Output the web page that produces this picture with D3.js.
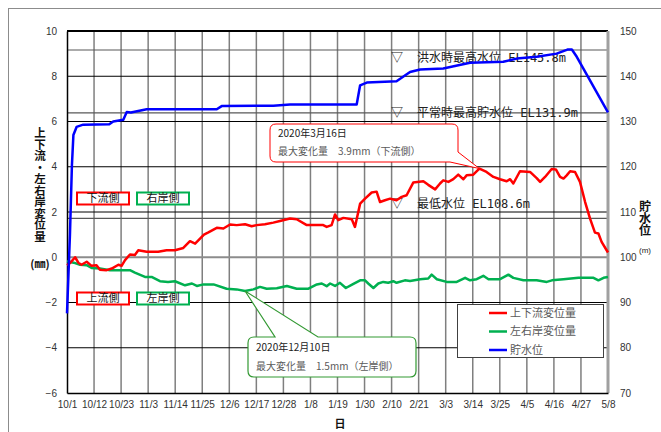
<!DOCTYPE html>
<html>
<head>
<meta charset="utf-8">
<script src="https://cdn.jsdelivr.net/npm/d3@7"></script>
<style>
body { margin: 0; background: #fff; }
svg { display: block; }
.vt { writing-mode: vertical-rl; text-orientation: upright; }
</style>
</head>
<body>
<div id="chart"></div>
<script>
// values; day = days elapsed since startDate
const startDate = '2019-10-01';
const xTickLabels = ['10/1', '10/12', '10/23', '11/3', '11/14', '11/25', '12/6', '12/17', '12/28', '1/8',
  '1/19', '1/30', '2/10', '2/21', '3/3', '3/14', '3/25', '4/5', '4/16', '4/27', '5/8'];
const leftTicks = [-6, -4, -2, 0, 2, 4, 6, 8, 10];
const rightTicks = [70, 80, 90, 100, 110, 120, 130, 140, 150];

// 上下流変位量 (mm)
const upDownDisp = [[0, -0.35], [1.4, -0.24], [3.3, 0.0], [4.6, -0.24], [5.9, -0.33], [8, -0.2], [10, -0.38],
  [12, -0.35], [13.4, -0.55], [16.1, -0.57], [18.2, -0.5], [20.9, -0.33], [22.2, -0.38], [23.6, -0.13],
  [25.6, 0.12], [27.6, 0.1], [29, 0.31], [32.4, 0.24], [37.1, 0.24], [40.5, 0.31], [43.9, 0.31], [47.3, 0.41],
  [50, 0.71], [52.1, 0.6], [54.1, 0.82], [55.7, 1.0], [57.5, 1.1], [60.9, 1.3], [63.6, 1.27], [66.3, 1.45],
  [69, 1.42], [72.4, 1.46], [75.1, 1.37], [77.1, 1.42], [80.5, 1.46], [83.9, 1.53], [86.6, 1.6], [90.7, 1.71],
  [93.4, 1.68], [97.5, 1.42], [104.2, 1.42], [105.6, 1.34], [107.6, 1.42], [109, 1.89], [110.3, 1.64],
  [112.4, 1.74], [115.8, 1.68], [117.1, 1.34], [119.2, 2.37], [121.2, 2.59], [123.9, 2.86], [125.9, 2.9],
  [127.3, 2.44], [129.3, 2.52], [131.4, 2.59], [134, 2.52], [136.1, 2.67], [138.1, 2.74], [140.8, 3.3],
  [144.9, 3.36], [146.9, 3.2], [149.7, 3.0], [151.7, 3.26], [153, 3.4], [155.1, 3.33], [157.1, 3.45],
  [159.1, 3.65], [161.2, 3.45], [162.5, 3.62], [165.2, 3.65], [167.7, 3.92], [170.6, 3.77], [173.4, 3.55],
  [176.1, 3.45], [178.8, 3.36], [180.2, 3.45], [181.5, 3.26], [184.2, 3.8], [188.3, 3.77], [191, 3.5],
  [192.4, 3.33], [194.4, 3.55], [197.1, 3.9], [198.8, 3.88], [200.5, 3.55], [201.9, 3.48], [203.2, 3.62],
  [204.6, 3.8], [206.6, 3.77], [208.6, 3.33], [210.7, 2.44], [212.7, 1.71], [214.7, 1.09], [216.1, 1.05],
  [217.4, 0.68], [220, 0.21]];

// 左右岸変位量 (mm)
const leftRightDisp = [[0, -0.18], [2.7, -0.24], [5.3, -0.33], [8, -0.35], [10, -0.47], [13.4, -0.5],
  [17.5, -0.57], [25.6, -0.57], [27.6, -0.68], [31.7, -0.87], [34.4, -0.87], [37.8, -1.06], [41.1, -1.09],
  [43.9, -1.06], [48, -1.24], [50.8, -1.16], [52.8, -1.27], [55.5, -1.2], [59.6, -1.2], [64.9, -1.39],
  [69, -1.42], [72.4, -1.49], [75.8, -1.42], [78.5, -1.31], [81.2, -1.39], [85.3, -1.37], [89.4, -1.27],
  [93.4, -1.39], [98.2, -1.39], [101.6, -1.2], [103.6, -1.16], [105.6, -1.28], [107, -1.16], [109, -1.27],
  [111, -1.13], [113.4, -1.36], [116.1, -1.2], [119.2, -1.02], [121.2, -1.02], [122.5, -1.16], [124.6, -1.36],
  [126.6, -1.16], [128.6, -1.09], [130.6, -1.13], [132.7, -1.06], [134, -1.13], [137.4, -1.02], [139.5, -1.05],
  [143.6, -0.97], [146.9, -0.94], [148.3, -0.77], [150.4, -0.97], [154.4, -1.09], [158.5, -1.09],
  [161.9, -0.91], [163.9, -1.02], [166.6, -0.97], [169.3, -0.82], [171.4, -0.97], [176.1, -0.97],
  [179.5, -0.77], [181.5, -0.91], [185.6, -1.02], [191, -1.02], [195.1, -1.09], [197.2, -1.02],
  [201.9, -0.97], [208, -0.91], [214.1, -0.91], [216.1, -1.02], [218.2, -0.91], [220, -0.87]];

// 貯水位 (m)
const waterLevel = [[0, 87.6], [1.2, 105], [2, 120.3], [2.6, 127], [3.9, 128.8], [6.6, 129.3], [17.2, 129.4],
  [18.8, 130.0], [22.9, 130.4], [24.3, 132.1], [26, 132.0], [32.4, 132.7], [60.9, 132.7], [62.9, 133.4],
  [83.9, 133.5], [90.7, 133.75], [117.8, 133.75], [119.2, 138.0], [121.9, 138.6], [134, 138.9],
  [139.5, 140.95], [143.6, 141.5], [153, 141.7], [163.9, 143.0], [177.4, 143.2], [182.9, 143.9],
  [191, 144.3], [199.1, 145.0], [203.5, 145.9], [205.3, 145.9], [207.3, 144.3], [220, 132.0]];

const refLevels = [145.8, 131.9, 108.6];
const refLabels = ['洪水時最高水位 EL145.8m', '平常時最高貯水位 EL131.9m', '最低水位 EL108.6m'];
const seriesNames = ['上下流変位量', '左右岸変位量', '貯水位'];
const seriesColors = ['#ff0000', '#00b050', '#0000ff'];

const width = 661, height = 432;
const margin = { top: 31, right: 53, bottom: 39, left: 67 };
const jp = '"Noto Sans CJK JP", sans-serif';
const num = '"Liberation Sans", Arial, sans-serif';

let svg = d3.select('#chart').append('svg')
  .attr('width', width)
  .attr('height', height);

svg.append('rect').attr('width', width).attr('height', height).attr('fill', '#fff');
// outer chart frame
svg.append('rect')
  .attr('x', 8.5).attr('y', 8.5)
  .attr('width', 720).attr('height', 500)
  .attr('fill', 'none').attr('stroke', '#8c8c8c');

let start = d3.utcParse('%Y-%m-%d')(startDate);
let toDate = day => new Date(+start + day * 864e5);
let parseTick = s => {
  let [m, d] = s.split('/').map(Number);
  return new Date(Date.UTC(m >= 10 ? 2019 : 2020, m - 1, d));
};
let tickDates = xTickLabels.map(parseTick);

let x = d3.scaleUtc()
  .domain([tickDates[0], tickDates[tickDates.length - 1]])
  .range([margin.left, width - margin.right]);
let yL = d3.scaleLinear().domain([-6, 10]).range([height - margin.bottom, margin.top]);
let yR = d3.scaleLinear().domain([70, 150]).range([height - margin.bottom, margin.top]);

let grid = svg.append('g');
grid.selectAll('.vg').data(tickDates.slice(1, -1)).join('line')
  .attr('x1', d => x(d)).attr('x2', d => x(d))
  .attr('y1', margin.top).attr('y2', height - margin.bottom)
  .attr('stroke', '#7f7f7f').attr('stroke-width', 1.5);
grid.selectAll('.hg').data(leftTicks.slice(1, -1)).join('line')
  .attr('x1', margin.left).attr('x2', width - margin.right)
  .attr('y1', d => yL(d)).attr('y2', d => yL(d))
  .attr('stroke', d => d === 0 ? '#8c8c8c' : '#000')
  .attr('stroke-width', d => d === 0 ? 2 : 1);
grid.selectAll('.rg').data(refLevels).join('line')
  .attr('x1', margin.left).attr('x2', width - margin.right)
  .attr('y1', d => yR(d)).attr('y2', d => yR(d))
  .attr('stroke', '#595959').attr('stroke-width', 1.2);

// frame of the plot area
svg.append('line')
  .attr('x1', margin.left).attr('x2', width - margin.right)
  .attr('y1', margin.top).attr('y2', margin.top)
  .attr('stroke', '#000').attr('stroke-width', 2);
svg.append('line')
  .attr('x1', width - margin.right).attr('x2', width - margin.right)
  .attr('y1', margin.top).attr('y2', height - margin.bottom)
  .attr('stroke', '#a0a0a0').attr('stroke-width', 3);

// axes
let axL = svg.append('g')
  .attr('transform', `translate(${margin.left},0)`)
  .call(d3.axisLeft(yL).tickValues(leftTicks).tickSize(0).tickPadding(10));
let axR = svg.append('g')
  .attr('transform', `translate(${width - margin.right},0)`)
  .call(d3.axisRight(yR).tickValues(rightTicks).tickSize(0).tickPadding(12));
let axB = svg.append('g')
  .attr('transform', `translate(0,${height - margin.bottom})`)
  .call(d3.axisBottom(x).tickValues(tickDates).tickSize(0).tickPadding(8)
    .tickFormat((d, i) => xTickLabels[i]));
axR.select('.domain').remove();
[axL, axB].forEach(a => a.select('.domain').attr('stroke', '#000').attr('stroke-width', 1.5));
[axL, axR, axB].forEach(a => a.selectAll('text')
  .attr('font-family', num).attr('font-size', 10).attr('fill', '#333'));

// reference level labels
let refDy = [8, 0, -15];
refLevels.forEach((lv, i) => {
  let yy = yR(lv) + refDy[i];
  svg.append('text')
    .attr('x', 397).attr('y', yy).attr('dy', '0.35em')
    .attr('text-anchor', 'middle')
    .attr('font-family', jp).attr('font-size', 12).attr('fill', '#222')
    .text('▽');
  svg.append('text')
    .attr('x', 417).attr('y', yy).attr('dy', '0.35em')
    .attr('font-family', '"DejaVu Sans Mono", "Noto Sans CJK JP", monospace')
    .attr('font-size', 12).attr('fill', '#222')
    .text(refLabels[i]);
});

// data lines
let lineL = d3.line().x(d => x(toDate(d[0]))).y(d => yL(d[1]));
let lineR = d3.line().x(d => x(toDate(d[0]))).y(d => yR(d[1]));
svg.append('path').datum(leftRightDisp).attr('d', lineL)
  .attr('fill', 'none').attr('stroke', seriesColors[1]).attr('stroke-width', 2.5).attr('stroke-linejoin', 'round');
svg.append('path').datum(upDownDisp).attr('d', lineL)
  .attr('fill', 'none').attr('stroke', seriesColors[0]).attr('stroke-width', 2.5).attr('stroke-linejoin', 'round');
svg.append('path').datum(waterLevel).attr('d', lineR)
  .attr('fill', 'none').attr('stroke', seriesColors[2]).attr('stroke-width', 2.5).attr('stroke-linejoin', 'round');

// side labels
let sideBoxes = [
  { t: '下流側', x: 77, y: 192.5, c: '#ff0000' },
  { t: '右岸側', x: 137, y: 192.5, c: '#00b050' },
  { t: '上流側', x: 77, y: 292.5, c: '#ff0000' },
  { t: '左岸側', x: 137, y: 292.5, c: '#00b050' }
];
sideBoxes.forEach(b => {
  svg.append('rect')
    .attr('x', b.x).attr('y', b.y).attr('width', 52).attr('height', 12)
    .attr('fill', '#fff').attr('stroke', b.c).attr('stroke-width', 2);
  svg.append('text')
    .attr('x', b.x + 26).attr('y', b.y + 6).attr('dy', '0.36em')
    .attr('text-anchor', 'middle')
    .attr('font-family', jp).attr('font-size', 11).attr('fill', '#111')
    .text(b.t);
});

// callouts
let maxUp = upDownDisp.reduce((a, b) => b[1] > a[1] ? b : a);
let minLr = leftRightDisp.reduce((a, b) => b[1] < a[1] ? b : a);
let ax1 = x(toDate(maxUp[0])), ay1 = yL(maxUp[1]);
let ax2 = x(toDate(minLr[0])), ay2 = yL(minLr[1]);

svg.append('path')
  .attr('d', `M276,124 H452 Q458,124 458,130 V152 L${ax1},${ay1} L450,162 H276 Q270,162 270,156 V130 Q270,124 276,124 Z`)
  .attr('fill', '#fff').attr('stroke', '#ff0000').attr('stroke-width', 1);
svg.append('text').attr('x', 278).attr('y', 137)
  .attr('font-family', jp).attr('font-size', 10).attr('fill', '#222')
  .text('2020年3月16日');
svg.append('text').attr('x', 278).attr('y', 155)
  .attr('font-family', jp).attr('font-size', 10).attr('fill', '#595959')
  .text('最大変化量　3.9mm（下流側）');

svg.append('path')
  .attr('d', `M254,337 H275 L${ax2},${ay2} L318,337 H410 Q416,337 416,343 V371 Q416,377 410,377 H254 Q248,377 248,371 V343 Q248,337 254,337 Z`)
  .attr('fill', '#fff').attr('stroke', '#339933').attr('stroke-width', 1.2);
svg.append('text').attr('x', 256).attr('y', 351)
  .attr('font-family', jp).attr('font-size', 10).attr('fill', '#222')
  .text('2020年12月10日');
svg.append('text').attr('x', 256).attr('y', 370)
  .attr('font-family', jp).attr('font-size', 10).attr('fill', '#595959')
  .text('最大変化量　1.5mm（左岸側）');

// legend
let legend = svg.append('g');
legend.append('rect')
  .attr('x', 457.5).attr('y', 304.5).attr('width', 146).attr('height', 53)
  .attr('fill', '#fff').attr('stroke', '#404040');
seriesNames.forEach((n, i) => {
  let ly = 313 + i * 18.5;
  legend.append('line')
    .attr('x1', 489).attr('x2', 507).attr('y1', ly).attr('y2', ly)
    .attr('stroke', seriesColors[i]).attr('stroke-width', 2.5);
  legend.append('text')
    .attr('x', 510).attr('y', ly).attr('dy', '0.36em')
    .attr('font-family', jp).attr('font-size', 11).attr('fill', '#595959')
    .text(n);
});

// axis titles (vertical writing)
svg.append('text')
  .attr('class', 'vt')
  .attr('x', 40).attr('y', 127)
  .attr('font-family', jp).attr('font-size', 11.5).attr('font-weight', 'bold').attr('fill', '#111')
  .text('上下流・左右岸変位量');
svg.append('text')
  .attr('x', 40).attr('y', 268)
  .attr('text-anchor', 'middle')
  .attr('font-family', jp).attr('font-size', 11).attr('font-weight', 'bold').attr('fill', '#111')
  .text('(㎜)');
svg.append('text')
  .attr('class', 'vt')
  .attr('x', 645).attr('y', 200)
  .attr('font-family', jp).attr('font-size', 12).attr('font-weight', 'bold').attr('fill', '#111')
  .text('貯水位');
svg.append('text')
  .attr('x', 645).attr('y', 253)
  .attr('text-anchor', 'middle')
  .attr('font-family', num).attr('font-size', 8).attr('fill', '#222')
  .text('(m)');
svg.append('text')
  .attr('x', 340).attr('y', 428)
  .attr('text-anchor', 'middle')
  .attr('font-family', jp).attr('font-size', 11).attr('font-weight', 'bold').attr('fill', '#111')
  .text('日');
</script>
</body>
</html>
